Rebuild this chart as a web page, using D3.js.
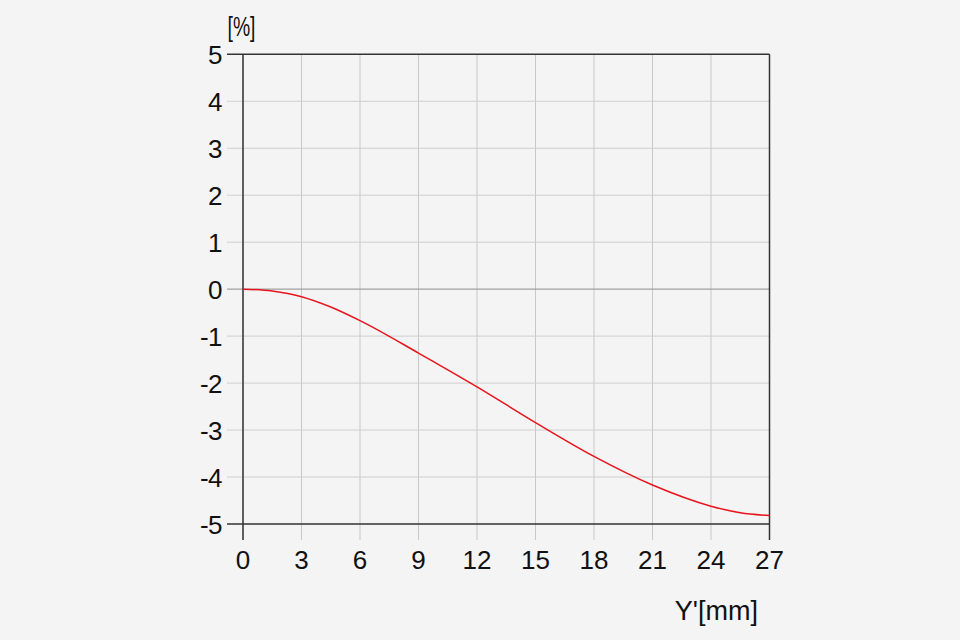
<!DOCTYPE html>
<html><head><meta charset="utf-8">
<script src="https://cdn.jsdelivr.net/npm/d3@7/dist/d3.min.js"></script>
<style>
html,body{margin:0;padding:0;background:#f4f4f4;}
svg{display:block;}
text{font-family:"Liberation Sans",Arial,sans-serif;fill:#111;}
</style></head>
<body>
<script>
const xTicks = [0,3,6,9,12,15,18,21,24,27];
const yTicks = [5,4,3,2,1,0,-1,-2,-3,-4,-5];
const imageHeight = [0,1.5,3,4.5,6,9,12,15,18,21,24,25.5,27];
const distortion = [0,-0.04,-0.16,-0.38,-0.67,-1.36,-2.08,-2.84,-3.56,-4.17,-4.62,-4.76,-4.82];

const W=960,H=640;
const svg=d3.select("body").append("svg").attr("width",W).attr("height",H);
svg.append("rect").attr("width",W).attr("height",H).attr("fill","#f4f4f4");
const x=d3.scaleLinear().domain([0,27]).range([243,769.5]);
const y=d3.scaleLinear().domain([-5,5]).range([524,54.3]);

// vertical grid
xTicks.forEach(t=>{
  svg.append("line").attr("x1",x(t)).attr("x2",x(t)).attr("y1",y(5)).attr("y2",540)
    .attr("stroke","#c8c8c8").attr("stroke-width",1);
});
// horizontal grid
yTicks.forEach(t=>{
  const dark = (t===5||t===-5);
  const zero = t===0;
  svg.append("line").attr("x1",227).attr("x2",x(27)).attr("y1",y(t)).attr("y2",y(t))
    .attr("stroke",dark?"#333":(zero?"#a0a0a0":"#cfcfcf")).attr("stroke-width",dark?1.5:(zero?1.3:1));
});
// left/right axes on top
[0,27].forEach(t=>{
  svg.append("line").attr("x1",x(t)).attr("x2",x(t)).attr("y1",y(5)).attr("y2",540)
    .attr("stroke","#333").attr("stroke-width",1.5);
});

// labels
svg.selectAll(".yl").data(yTicks).enter().append("text")
  .attr("x",222).attr("y",d=>y(d)+9.5).attr("text-anchor","end")
  .attr("font-size",26).attr("letter-spacing",-0.5).text(d=>d);
svg.selectAll(".xl").data(xTicks).enter().append("text")
  .attr("x",d=>x(d)).attr("y",569).attr("text-anchor","middle")
  .attr("font-size",26).text(d=>d);
svg.append("text").attr("x",227.5).attr("y",36).attr("font-size",28)
  .attr("textLength",28).attr("lengthAdjust","spacingAndGlyphs").text("[%]");
svg.append("text").attr("x",758).attr("y",620).attr("text-anchor","end").attr("font-size",27).text("Y'[mm]");

// curve
const pts=imageHeight.map((v,i)=>[v,distortion[i]]);
svg.append("path").datum(pts)
  .attr("d",d3.line().x(d=>x(d[0])).y(d=>y(d[1])).curve(d3.curveMonotoneX))
  .attr("fill","none").attr("stroke","#e8141c").attr("stroke-width",1.5);
</script>
</body></html>
